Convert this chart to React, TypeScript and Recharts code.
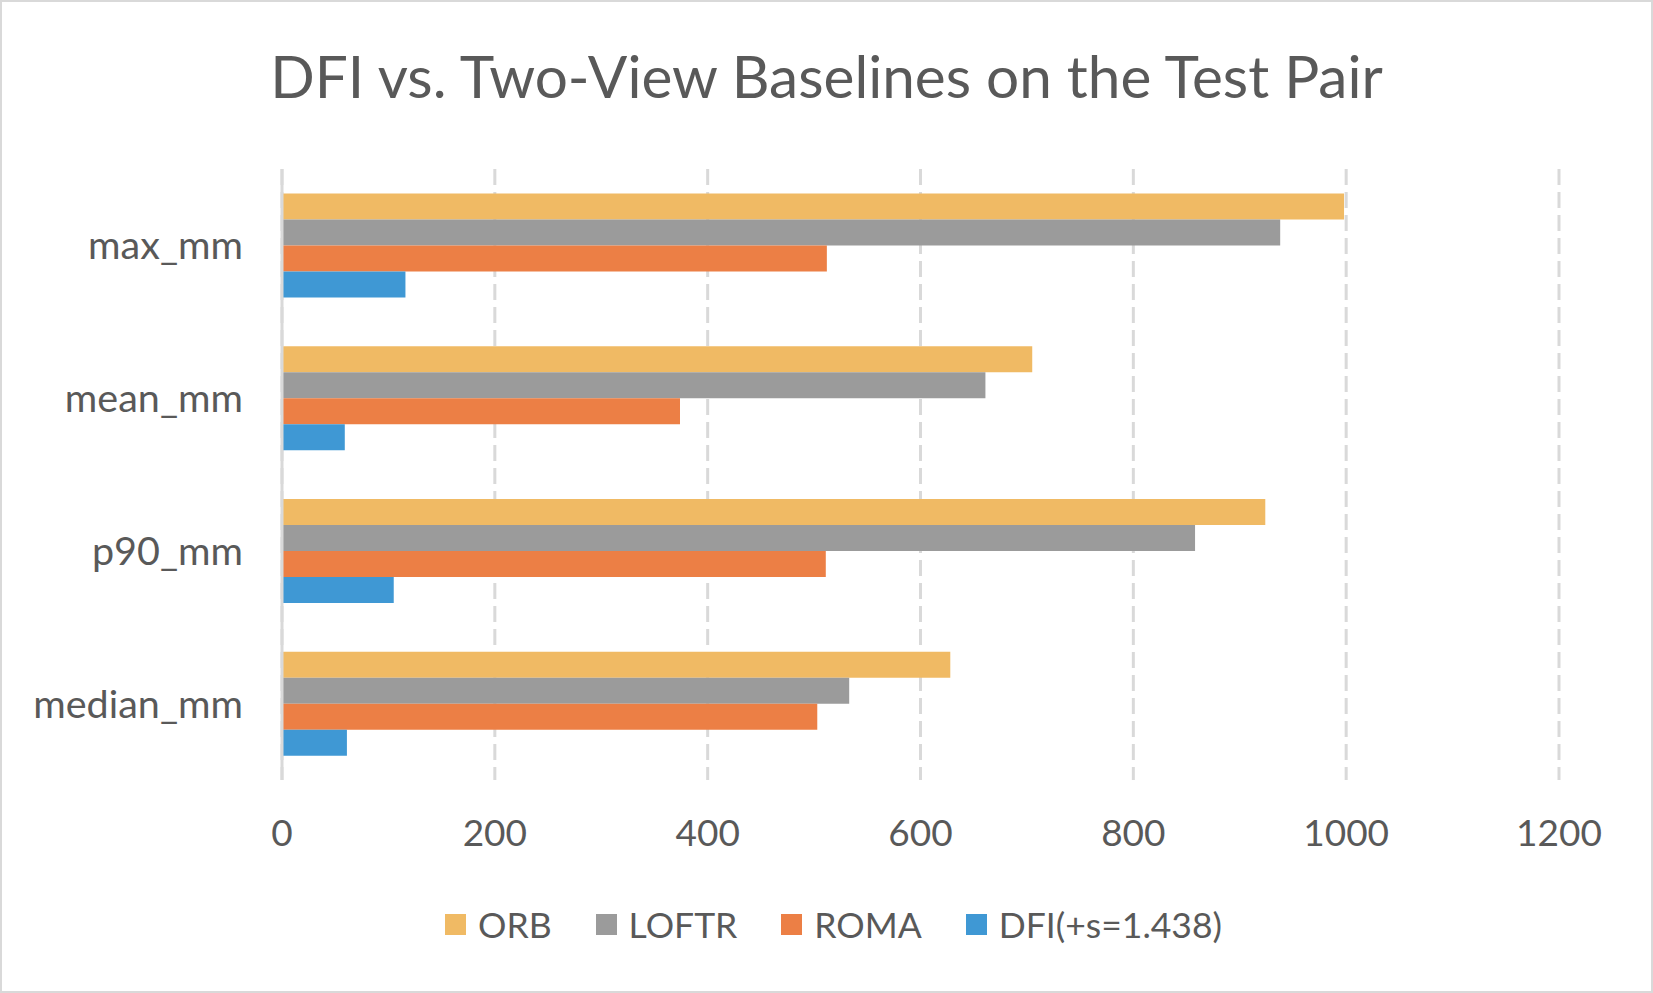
import React from 'react';
import { BarChart, Bar, XAxis, YAxis, CartesianGrid, Legend } from 'recharts';

// values (mm)
const categories = ['max_mm', 'mean_mm', 'p90_mm', 'median_mm'];
const orb = [998, 705, 924, 628];
const loftr = [938, 661, 858, 533];
const roma = [512, 374, 511, 503];
const dfi = [116, 59, 105, 61];
const xTicks = [0, 200, 400, 600, 800, 1000, 1200];

const series = [
  { key: 'ORB', name: 'ORB', color: '#F0BA64' },
  { key: 'LOFTR', name: 'LOFTR', color: '#9B9B9B' },
  { key: 'ROMA', name: 'ROMA', color: '#EC7F45' },
  { key: 'DFI', name: 'DFI(+s=1.438)', color: '#3F98D4' },
];

const data = categories.map((name, i) => ({
  name,
  ORB: orb[i],
  LOFTR: loftr[i],
  ROMA: roma[i],
  DFI: dfi[i],
}));

const FONT = 'Lato, "Open Sans", sans-serif';
const TEXT = '#595959';

const XTick = (props: any) => {
  const { x, y, payload } = props;
  return (
    <text x={x} y={y} dy={58} textAnchor="middle" fill={TEXT} fontSize={37} fontFamily={FONT}>
      {payload.value}
    </text>
  );
};

const YTick = (props: any) => {
  const { x, y, payload } = props;
  return (
    <text x={x} y={y} dy={14} textAnchor="end" fill={TEXT} fontSize={39.5} fontFamily={FONT}>
      {payload.value}
    </text>
  );
};

const LegendContent = () => (
  <div style={{ display: 'flex', justifyContent: 'center', alignItems: 'center', height: 40, fontFamily: FONT, fontSize: 35.5, color: TEXT, paddingLeft: 14 }}>
    {series.map((s, i) => (
      <div key={s.key} style={{ display: 'flex', alignItems: 'center', marginRight: i < series.length - 1 ? 44 : 0 }}>
        <span style={{ width: 21, height: 21, background: s.color, display: 'inline-block', marginRight: 12 }} />
        <span>{s.name}</span>
      </div>
    ))}
  </div>
);

export default function App() {
  return (
    <div style={{ position: 'absolute', left: 0, top: 0, width: 1653, height: 993, background: '#fff', border: '2px solid #D9D9D9', boxSizing: 'border-box', overflow: 'hidden' }}>
      <div style={{ position: 'absolute', left: -2, top: 36, width: 1653, textAlign: 'center', fontFamily: FONT, fontSize: 58.5, color: TEXT, lineHeight: '74px' }}>
        DFI vs. Two-View Baselines on the Test Pair
      </div>
      <div style={{ position: 'absolute', left: -2, top: -2 }}>
        <BarChart
          width={1653}
          height={993}
          data={data}
          layout="vertical"
          margin={{ top: 169, right: 94, bottom: 153, left: 0 }}
          barCategoryGap="16%"
          barGap={0}
        >
          <CartesianGrid horizontal={false} stroke="#D9D9D9" strokeWidth={3} strokeDasharray="16 7" />
          <XAxis type="number" domain={[0, 1200]} ticks={xTicks} axisLine={false} tickLine={false} height={60} tick={<XTick />} interval={0} />
          <YAxis type="category" dataKey="name" width={282} axisLine={{ stroke: '#D9D9D9', strokeWidth: 3 }} tickLine={false} tick={<YTick />} tickMargin={33} />
          <Legend
            layout="horizontal"
            verticalAlign="middle"
            align="center"
            content={<LegendContent />}
            wrapperStyle={{ top: 904, left: 0, width: 1653 }}
          />
          {series.map((s) => (
            <Bar key={s.key} dataKey={s.key} name={s.name} fill={s.color} isAnimationActive={false} />
          ))}
        </BarChart>
      </div>
    </div>
  );
}
